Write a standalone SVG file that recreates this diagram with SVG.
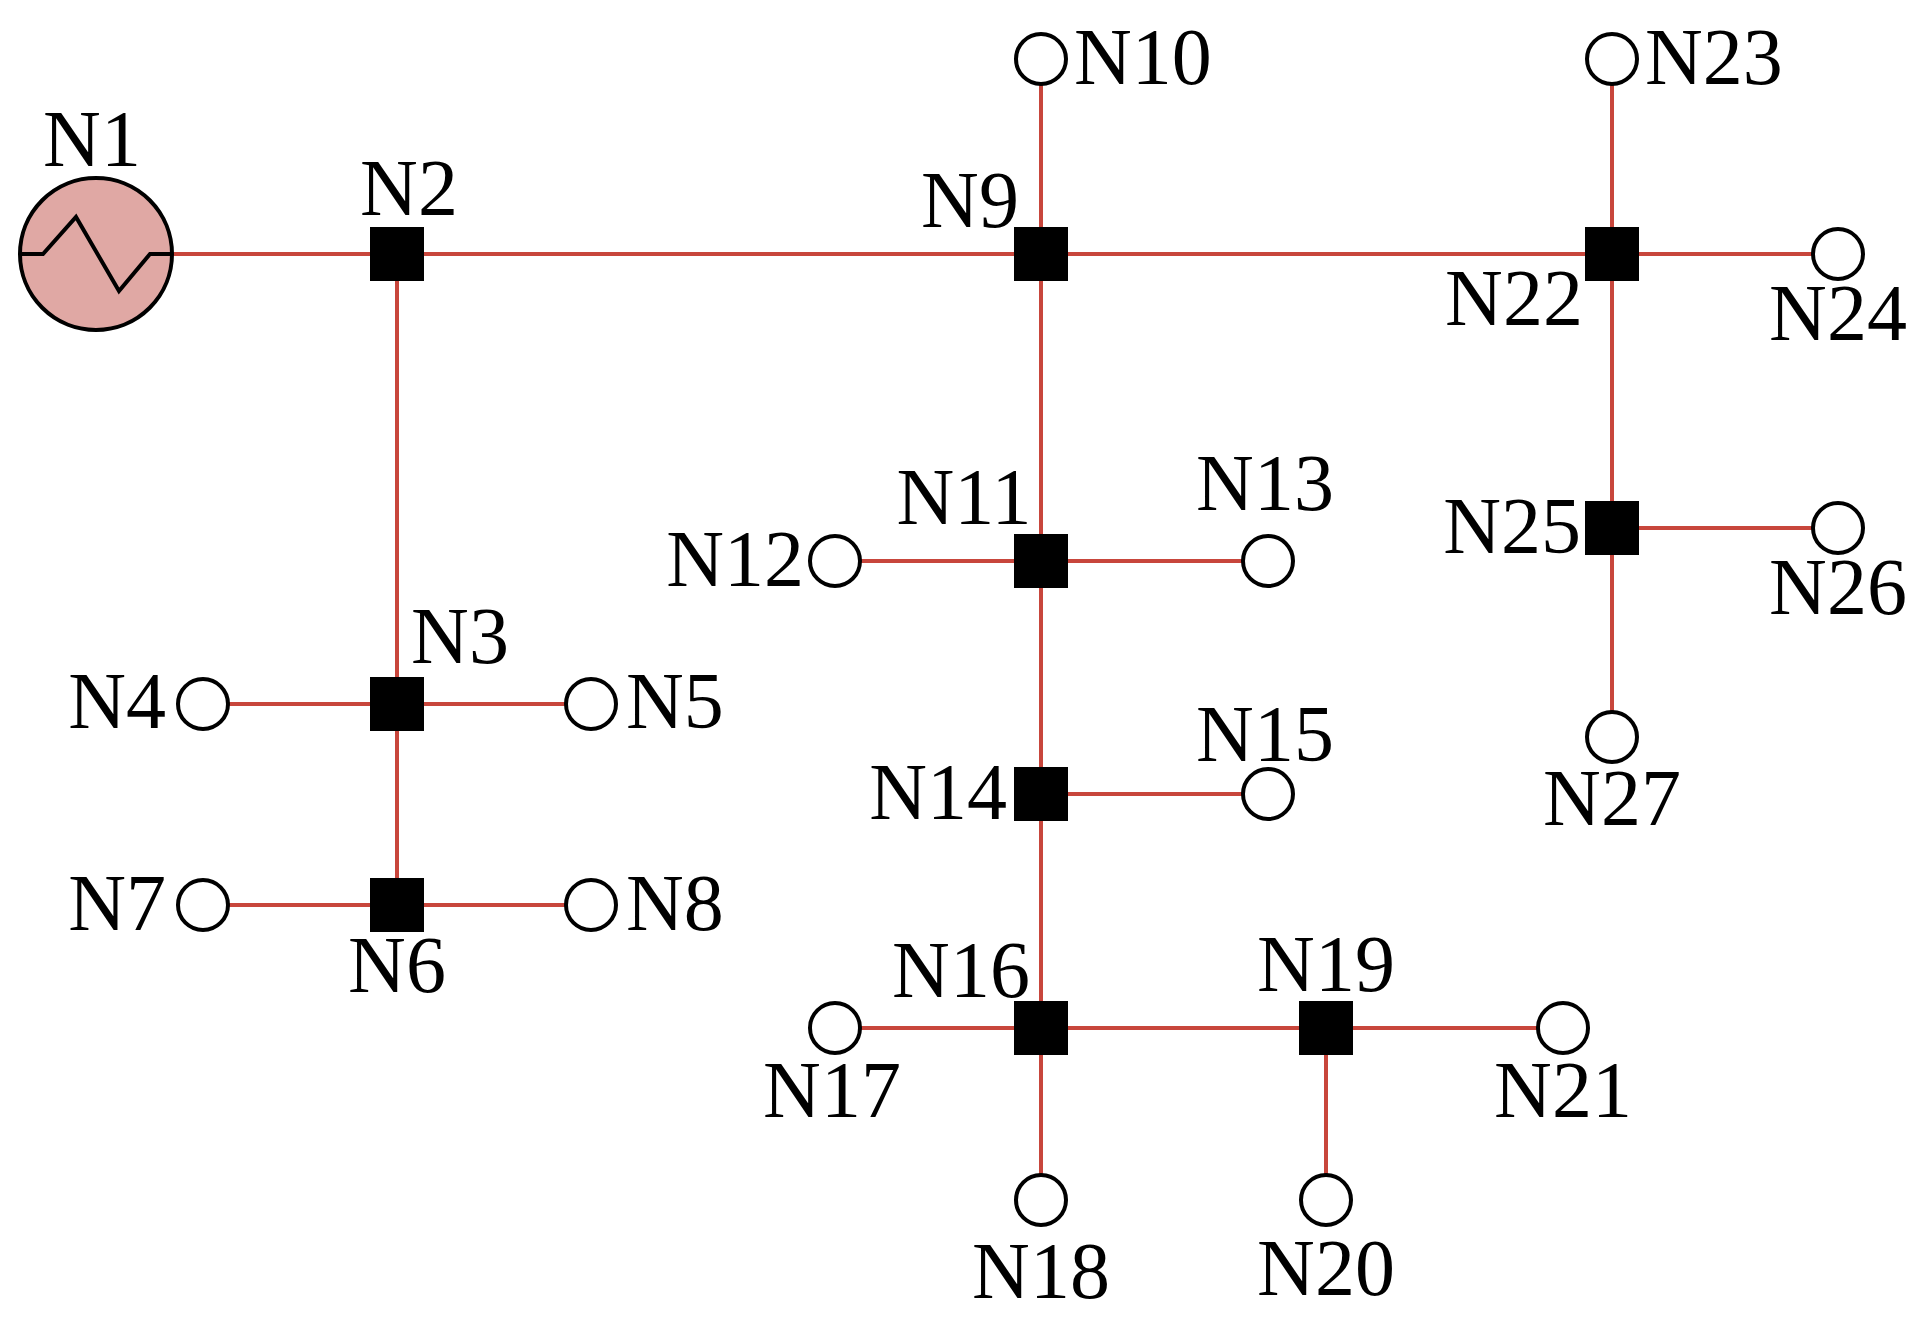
<svg xmlns="http://www.w3.org/2000/svg" width="1925" height="1328" viewBox="0 0 1925 1328">
<style>
.e{stroke:#c8463c;stroke-width:4;fill:none}
.c{fill:#fff;stroke:#000;stroke-width:4}
.s{fill:#000}
text{font-family:"Liberation Serif",serif;font-size:80px;fill:#000}
.m{text-anchor:middle}.r{text-anchor:end}
</style>
<rect width="1925" height="1328" fill="#fff"/>
<g id="connectors">
<path class="e" d="M172 254H1838M397 254V905M203 704H591M203 905H591M1041 59V1200M835 561H1268M1041 794H1268M835 1028H1563M1326 1028V1200M1612 59V737M1612 528H1838"/>
</g>
<g id="N1"><circle cx="96" cy="254" r="76" fill="#e0a8a4" stroke="#000" stroke-width="4"/><polyline points="20,254 43,254 76,217 119,291 150,254 172,254" fill="none" stroke="#000" stroke-width="4"/><text class="m" x="92" y="166">N1</text></g>
<g id="N2"><rect class="s" x="370" y="227" width="54" height="54"/><text class="m" x="409" y="215">N2</text></g>
<g id="N9"><rect class="s" x="1014" y="227" width="54" height="54"/><text class="m" x="970" y="227">N9</text></g>
<g id="N22"><rect class="s" x="1585" y="227" width="54" height="54"/><text class="m" x="1514" y="325">N22</text></g>
<g id="N10"><circle class="c" cx="1041" cy="59" r="25"/><text x="1074" y="84">N10</text></g>
<g id="N23"><circle class="c" cx="1612" cy="59" r="25"/><text x="1645" y="84">N23</text></g>
<g id="N24"><circle class="c" cx="1838" cy="254" r="25"/><text class="m" x="1838" y="340">N24</text></g>
<g id="N3"><rect class="s" x="370" y="677" width="54" height="54"/><text class="m" x="460" y="663">N3</text></g>
<g id="N4"><circle class="c" cx="203" cy="704" r="25"/><text class="r" x="166" y="728">N4</text></g>
<g id="N5"><circle class="c" cx="591" cy="704" r="25"/><text x="626" y="728">N5</text></g>
<g id="N6"><rect class="s" x="370" y="878" width="54" height="54"/><text class="m" x="397" y="992">N6</text></g>
<g id="N7"><circle class="c" cx="203" cy="905" r="25"/><text class="r" x="166" y="930">N7</text></g>
<g id="N8"><circle class="c" cx="591" cy="905" r="25"/><text x="626" y="930">N8</text></g>
<g id="N11"><rect class="s" x="1014" y="534" width="54" height="54"/><text class="m" x="964" y="524">N11</text></g>
<g id="N12"><circle class="c" cx="835" cy="561" r="25"/><text class="r" x="804" y="586">N12</text></g>
<g id="N13"><circle class="c" cx="1268" cy="561" r="25"/><text class="m" x="1265" y="510">N13</text></g>
<g id="N14"><rect class="s" x="1014" y="767" width="54" height="54"/><text class="r" x="1007" y="819">N14</text></g>
<g id="N15"><circle class="c" cx="1268" cy="794" r="25"/><text class="m" x="1265" y="761">N15</text></g>
<g id="N16"><rect class="s" x="1014" y="1001" width="54" height="54"/><text class="m" x="961" y="997">N16</text></g>
<g id="N17"><circle class="c" cx="835" cy="1028" r="25"/><text class="m" x="832" y="1117">N17</text></g>
<g id="N18"><circle class="c" cx="1041" cy="1200" r="25"/><text class="m" x="1041" y="1298">N18</text></g>
<g id="N19"><rect class="s" x="1299" y="1001" width="54" height="54"/><text class="m" x="1326" y="991">N19</text></g>
<g id="N20"><circle class="c" cx="1326" cy="1200" r="25"/><text class="m" x="1326" y="1295">N20</text></g>
<g id="N21"><circle class="c" cx="1563" cy="1028" r="25"/><text class="m" x="1563" y="1117">N21</text></g>
<g id="N25"><rect class="s" x="1585" y="501" width="54" height="54"/><text class="r" x="1581" y="553">N25</text></g>
<g id="N26"><circle class="c" cx="1838" cy="528" r="25"/><text class="m" x="1838" y="614">N26</text></g>
<g id="N27"><circle class="c" cx="1612" cy="737" r="25"/><text class="m" x="1612" y="825">N27</text></g>
</svg>
